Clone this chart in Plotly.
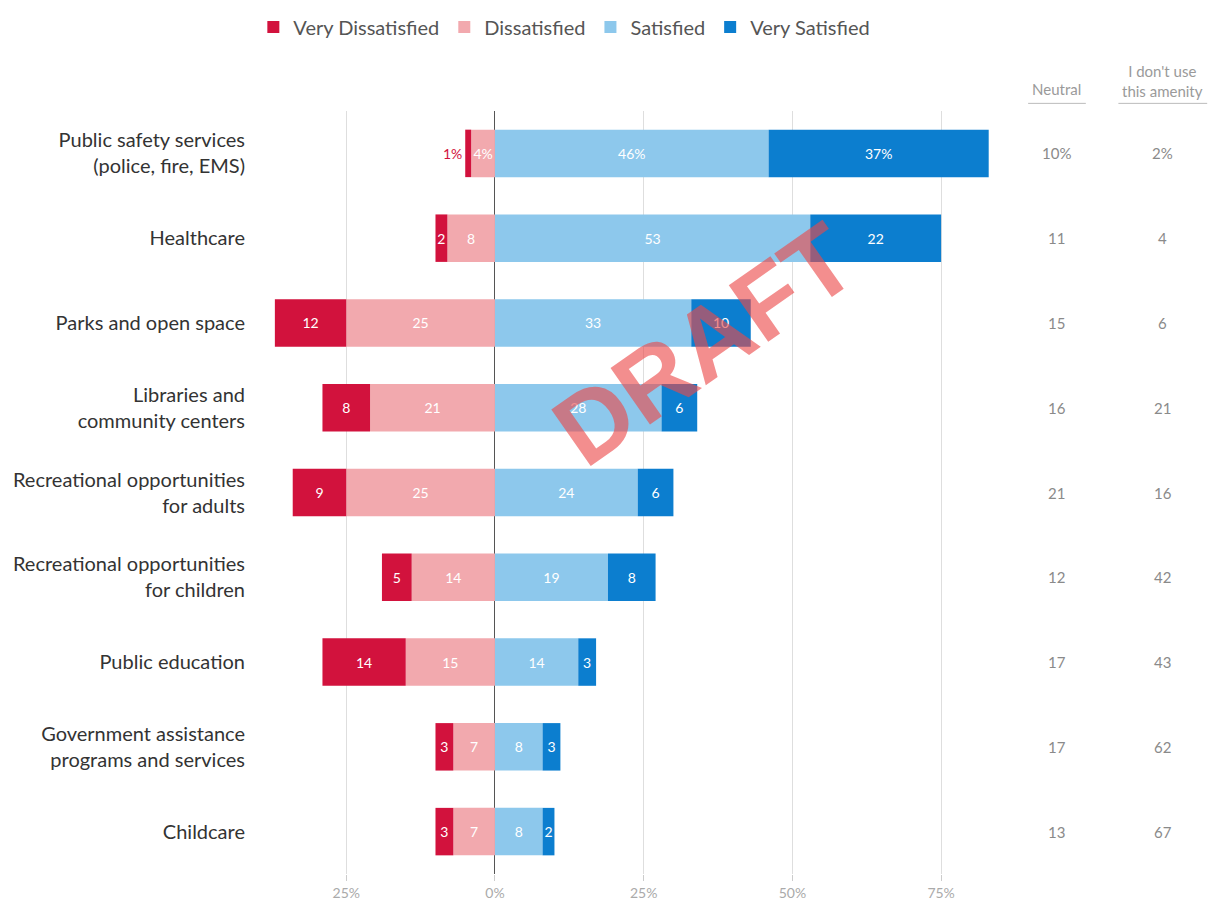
import plotly.graph_objects as go

categories = [
    "Public safety services<br>(police, fire, EMS)",
    "Healthcare",
    "Parks and open space",
    "Libraries and<br>community centers",
    "Recreational opportunities<br>for adults",
    "Recreational opportunities<br>for children",
    "Public education",
    "Government assistance<br>programs and services",
    "Childcare",
]
very_dissatisfied = [1, 2, 12, 8, 9, 5, 14, 3, 3]
dissatisfied = [4, 8, 25, 21, 25, 14, 15, 7, 7]
satisfied = [46, 53, 33, 28, 24, 19, 14, 8, 8]
very_satisfied = [37, 22, 10, 6, 6, 8, 3, 3, 2]
neutral = [10, 11, 15, 16, 21, 12, 17, 17, 13]
dont_use = [2, 4, 6, 21, 16, 42, 43, 62, 67]

tick_vals = [-25, 0, 25, 50, 75]
tick_text = ["25%", "0%", "25%", "50%", "75%"]

C_VD = "#d2123d"
C_D = "#f2a9ae"
C_S = "#8dc8ec"
C_VS = "#0c7ecf"
FONT = "Lato"


def labels(vals):
    return [f"{v}%" if i == 0 else str(v) for i, v in enumerate(vals)]


fig = go.Figure()

vd_pos = ["outside" if i == 0 else "inside" for i in range(len(categories))]
vd_font = ["#d2123d" if i == 0 else "white" for i in range(len(categories))]

common = dict(orientation="h", insidetextanchor="middle", textangle=0, hoverinfo="skip",
              cliponaxis=False)

fig.add_trace(go.Bar(
    name="Dissatisfied", y=categories, x=[-v for v in dissatisfied],
    marker=dict(color=C_D, line=dict(width=0)), text=labels(dissatisfied),
    textposition="inside", textfont=dict(color="white", size=14, family=FONT),
    legendrank=2, **common,
))
fig.add_trace(go.Bar(
    name="Very Dissatisfied", y=categories, x=[-v for v in very_dissatisfied],
    marker=dict(color=C_VD, line=dict(width=0)), text=labels(very_dissatisfied),
    textposition=vd_pos, textfont=dict(color=vd_font, size=14, family=FONT),
    legendrank=1, **common,
))
fig.add_trace(go.Bar(
    name="Satisfied", y=categories, x=satisfied,
    marker=dict(color=C_S, line=dict(width=0)), text=labels(satisfied),
    textposition="inside", textfont=dict(color="white", size=14, family=FONT),
    legendrank=3, **common,
))
fig.add_trace(go.Bar(
    name="Very Satisfied", y=categories, x=very_satisfied,
    marker=dict(color=C_VS, line=dict(width=0)), text=labels(very_satisfied),
    textposition="inside", textfont=dict(color="white", size=14, family=FONT),
    legendrank=4, **common,
))

annotations = []
for i, cat in enumerate(categories):
    nv = f"{neutral[i]}%" if i == 0 else str(neutral[i])
    dv = f"{dont_use[i]}%" if i == 0 else str(dont_use[i])
    annotations.append(dict(x=1.077, xref="paper", xanchor="center", y=cat, yref="y", text=nv,
                            showarrow=False, font=dict(size=15, color="#8a8a8a", family=FONT)))
    annotations.append(dict(x=1.220, xref="paper", xanchor="center", y=cat, yref="y", text=dv,
                            showarrow=False, font=dict(size=15, color="#8a8a8a", family=FONT)))

annotations.append(dict(x=1.077, xref="paper", xanchor="center", y=1.014, yref="paper",
                        yanchor="bottom", text="Neutral",
                        showarrow=False, font=dict(size=15, color="#9a9a9a", family=FONT)))
annotations.append(dict(x=1.220, xref="paper", xanchor="center", y=1.012, yref="paper",
                        yanchor="bottom", text="I don't use<br>this amenity", showarrow=False,
                        font=dict(size=15, color="#9a9a9a", family=FONT)))
annotations.append(dict(x=0.600, xref="paper", xanchor="center", y=0.694, yref="paper",
                        yanchor="middle", text="<b>DRAFT</b>", showarrow=False,
                        textangle=-35,
                        font=dict(size=100, color="rgba(236,72,72,0.62)", family="Liberation Sans")))

shapes = [
    dict(type="line", xref="paper", yref="paper", x0=1.038, x1=1.116, y0=1.01, y1=1.01,
         line=dict(color="#bbbbbb", width=1)),
    dict(type="line", xref="paper", yref="paper", x0=1.16, x1=1.28, y0=1.01, y1=1.01,
         line=dict(color="#bbbbbb", width=1)),
]

fig.update_layout(
    width=1225, height=903,
    barmode="relative", bargap=0.44,
    plot_bgcolor="white", paper_bgcolor="white",
    margin=dict(l=252, r=233, t=103, b=37, autoexpand=False),
    font=dict(family=FONT, color="#333333"),
    uniformtext=dict(mode="show", minsize=13),
    showlegend=True,
    legend=dict(orientation="h", x=-0.009, xanchor="left", y=1.11, yanchor="middle",
                font=dict(size=20, color="#555555", family=FONT), itemwidth=30,
                traceorder="normal"),
    annotations=annotations,
    shapes=shapes,
    xaxis=dict(range=[-39.5, 84.9], tickvals=tick_vals, ticktext=tick_text,
               showgrid=True, gridcolor="#dedede", gridwidth=1,
               zeroline=True, zerolinecolor="#555555", zerolinewidth=1,
               ticks="outside", ticklen=6, tickcolor="#cccccc",
               tickfont=dict(size=14, color="#aaaaaa", family=FONT), fixedrange=True,
               automargin=False),
    yaxis=dict(autorange="reversed", showgrid=False, ticks="", ticklabelstandoff=14,
               tickfont=dict(size=20, color="#333333", family=FONT), fixedrange=True,
               automargin=False),
)

fig.write_html("out.html")
